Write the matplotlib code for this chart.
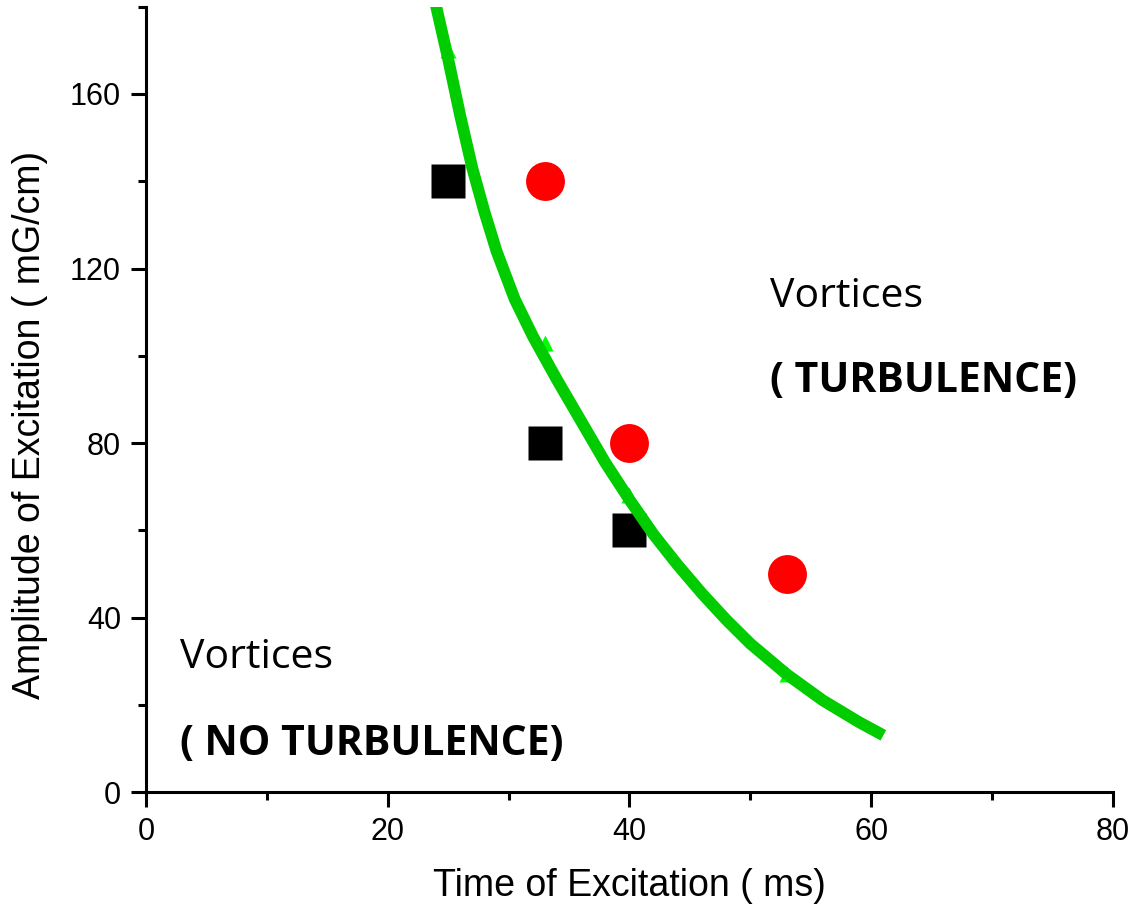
import matplotlib
matplotlib.use("Agg")
import matplotlib.pyplot as plt
from matplotlib.ticker import MultipleLocator

# measured points
sq_x = [25, 33, 40]
sq_y = [140, 80, 60]
circ_x = [33, 40, 53]
circ_y = [140, 80, 50]
tri_x = [25, 33, 40, 53]
tri_y = [170, 103, 68, 27]

# boundary curve
curve_x = [23.85, 25, 26, 27, 28, 29, 30.5, 32, 34, 36, 38, 40, 42, 44, 46, 48, 50, 53, 56, 59, 61]
curve_y = [182, 168, 155, 143, 133, 124, 113, 104.5, 94.5, 85, 75.5, 67, 59, 52, 45.5, 39.5, 34, 27, 21, 16, 13]

plt.rcParams['font.family'] = ['Liberation Sans', 'DejaVu Sans']

fig = plt.figure(figsize=(11.34, 9.11), dpi=100)
ax = fig.add_axes([0.1287, 0.1306, 0.8528, 0.862])

ax.plot(tri_x, tri_y, '^', color='#00ff00', ms=11, mec='none', zorder=2)
ax.plot(sq_x, sq_y, 's', color='black', ms=24.5, mec='none', zorder=2)
ax.plot(curve_x, curve_y, '-', color='#00cc00', lw=8.5, solid_capstyle='butt',
        solid_joinstyle='round', zorder=3)
ax.plot(circ_x, circ_y, 'o', color='#ff0000', ms=28, mec='none', zorder=4)

txt_font = ['Open Sans', 'DejaVu Sans']
ax.text(51.6, 113.5, 'Vortices', fontsize=29.5, family=txt_font, va='center', ha='left')
ax.text(51.6, 94, '( TURBULENCE)', fontsize=29.5, family=txt_font, fontweight='bold', va='center', ha='left')
ax.text(2.8, 30.7, 'Vortices', fontsize=29.5, family=txt_font, va='center', ha='left')
ax.text(2.8, 10.8, '( NO TURBULENCE)', fontsize=29.5, family=txt_font, fontweight='bold', va='center', ha='left')

ax.set_xlim(0, 80)
ax.set_ylim(0, 180)
ax.xaxis.set_major_locator(MultipleLocator(20))
ax.xaxis.set_minor_locator(MultipleLocator(10))
ax.yaxis.set_major_locator(MultipleLocator(40))
ax.yaxis.set_minor_locator(MultipleLocator(20))

for s in ['top', 'right']:
    ax.spines[s].set_visible(False)
for s in ['left', 'bottom']:
    ax.spines[s].set_linewidth(2.2)

ax.tick_params(which='major', direction='out', length=11, width=2.2, labelsize=22, pad=7)
ax.tick_params(which='minor', direction='out', length=6, width=2.2)

ax.set_xlabel('Time of Excitation ( ms)', fontsize=27)
ax.set_ylabel('Amplitude of Excitation ( mG/cm)', fontsize=27)
ax.xaxis.set_label_coords(0.5, -0.097)
ax.yaxis.set_label_coords(-0.101, 0.467)

fig.savefig('out.png', dpi=100)
